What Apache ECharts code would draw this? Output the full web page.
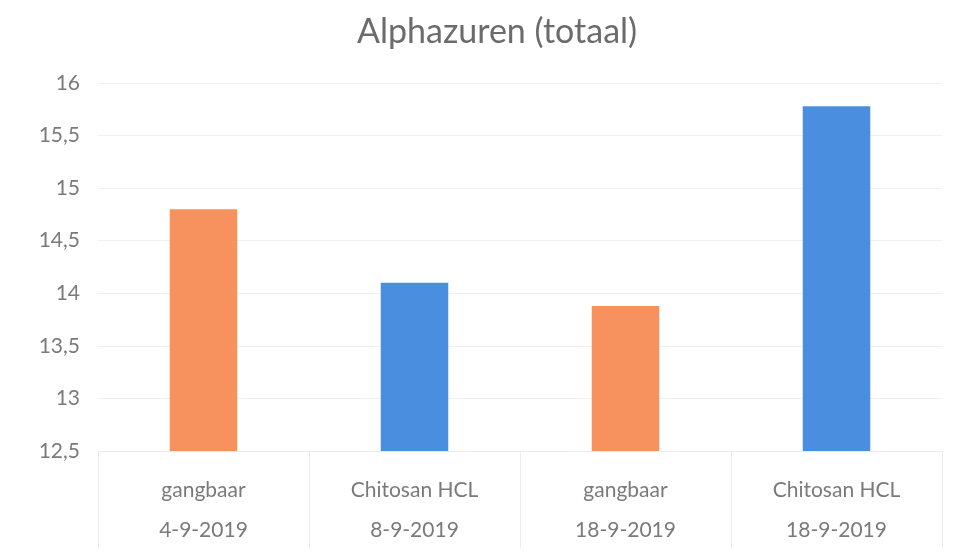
<!DOCTYPE html>
<html>
<head>
<meta charset="utf-8">
<script src="https://cdn.jsdelivr.net/npm/echarts@6/dist/echarts.min.js"></script>
<style>
  html, body { margin: 0; padding: 0; background: #fff; }
  #main { width: 957px; height: 554px; }
</style>
</head>
<body>
<div id="main"></div>
<script>
// data
var categories = ['gangbaar', 'Chitosan HCL', 'gangbaar', 'Chitosan HCL'];
var dates = ['4-9-2019', '8-9-2019', '18-9-2019', '18-9-2019'];
var values = [14.8, 14.1, 13.88, 15.78];
var barColors = ['#F7925F', '#4A8EE0', '#F7925F', '#4A8EE0'];

var myChart = echarts.init(document.getElementById('main'));
var option = {
  backgroundColor: '#fff',
  textStyle: { fontFamily: 'Lato' },
  title: {
    text: 'Alphazuren (totaal)',
    left: 352,
    top: 10,
    textStyle: { fontSize: 34, fontWeight: 'normal', color: '#6b6b6b', fontFamily: 'Lato' }
  },
  grid: { left: 98, right: 15, top: 83, bottom: 103 },
  xAxis: {
    type: 'category',
    data: categories,
    axisLine: { lineStyle: { color: '#ececec' } },
    axisTick: { show: true, interval: 0, length: 97, lineStyle: { color: '#ececec' } },
    axisLabel: {
      interval: 0,
      margin: 19,
      formatter: function (v, i) {
        return '{a|' + v + '}\n{a|' + dates[i] + '}';
      },
      rich: {
        a: { fontSize: 21, color: '#7a7a7a', lineHeight: 40, fontFamily: 'Lato' }
      }
    }
  },
  yAxis: {
    type: 'value',
    min: 12.5,
    max: 16,
    interval: 0.5,
    axisLine: { show: false },
    axisTick: { show: false },
    splitLine: { lineStyle: { color: '#f0f0f0' } },
    axisLabel: {
      margin: 18,
      fontSize: 21,
      color: '#7a7a7a',
      formatter: function (v) { return String(v).replace('.', ','); }
    }
  },
  series: [
    {
      type: 'bar',
      barWidth: '32%',
      data: values.map(function (v, i) {
        return { value: v, itemStyle: { color: barColors[i] } };
      })
    }
  ]
};
myChart.setOption(option);
</script>
</body>
</html>
